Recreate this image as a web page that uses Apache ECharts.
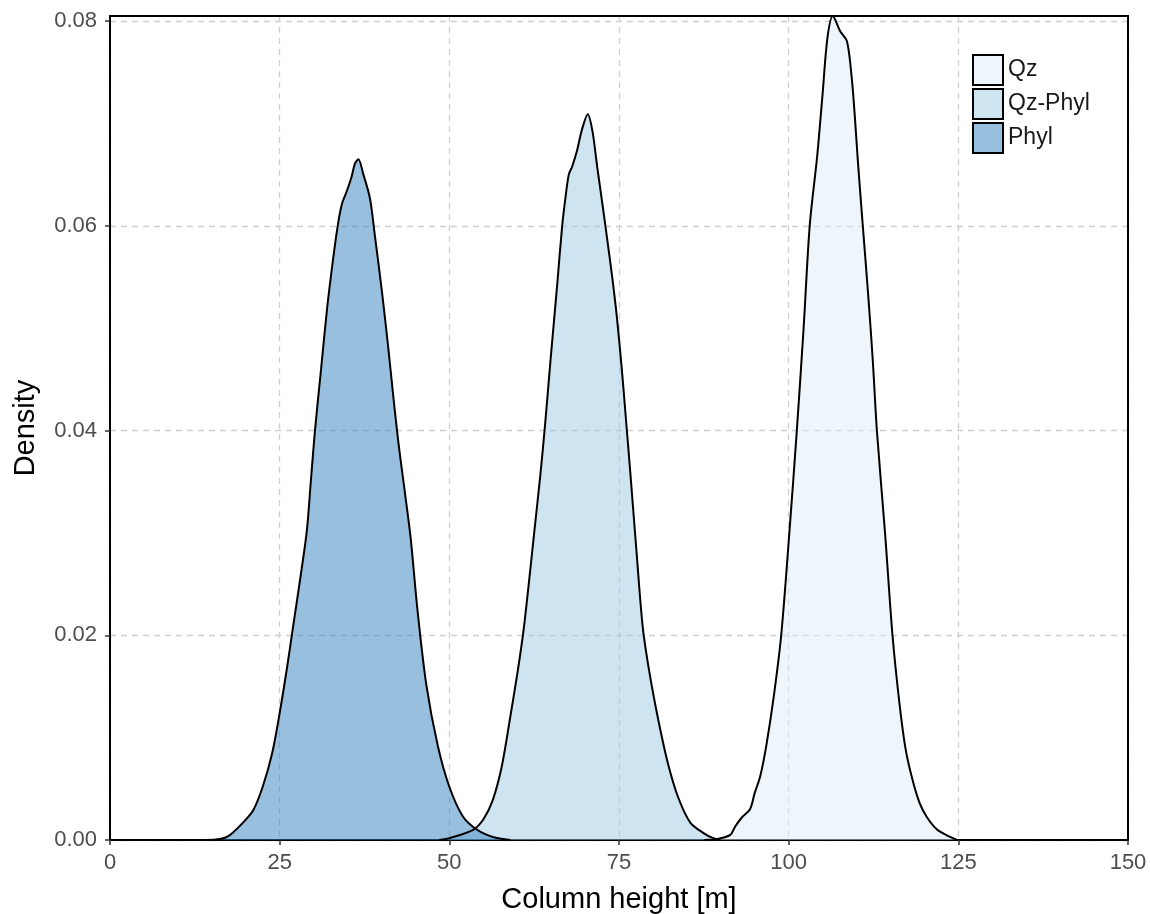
<!DOCTYPE html>
<html>
<head>
<meta charset="utf-8">
<script src="https://cdn.jsdelivr.net/npm/echarts@6/dist/echarts.min.js"></script>
<style>
html,body{margin:0;padding:0;background:#fff;}
#chart{width:1150px;height:914px;}
</style>
</head>
<body>
<div id="chart"></div>
<script>
const seriesNames = ['Qz', 'Qz-Phyl', 'Phyl'];
const xTicks = [0, 25, 50, 75, 100, 125, 150];
const yTicks = [0, 0.02, 0.04, 0.06, 0.08];

const phylData = [
  [14.0,0],[16.2,0.0001],[17.5,0.0004],[19.6,0.0017],[21.1,0.0029],[22.5,0.0052],
  [23.9,0.0085],[25.0,0.0124],[26.1,0.0169],[26.9,0.0205],[28.0,0.0254],[29.0,0.0302],
  [29.6,0.0351],[30.2,0.0400],[31.1,0.0460],[32.0,0.0520],[32.9,0.0569],[33.6,0.0602],
  [34.2,0.0622],[34.9,0.0634],[35.6,0.0648],[36.1,0.0661],[36.6,0.0665],[37.3,0.0651],
  [38.3,0.0627],[39.0,0.0592],[40.1,0.0534],[41.0,0.0481],[41.7,0.0436],[42.5,0.0388],
  [43.4,0.0342],[44.3,0.0295],[45.3,0.0225],[46.6,0.0152],[48.3,0.0092],[50.0,0.0052],
  [52.0,0.0023],[54.1,0.0010],[56.4,0.0003],[59.0,0]
];
const qzPhylData = [
  [48.5,0],[50.1,0.0002],[53.5,0.0010],[55.0,0.0020],[56.4,0.0039],[57.7,0.0071],
  [58.9,0.0117],[60.1,0.0166],[60.9,0.0203],[61.7,0.0250],[62.5,0.0300],[63.4,0.0356],
  [64.1,0.0405],[64.9,0.0468],[65.9,0.0543],[66.6,0.0598],[67.1,0.0627],[67.6,0.0650],
  [68.1,0.0658],[68.8,0.0673],[69.5,0.0693],[70.4,0.0709],[71.1,0.0692],[71.8,0.0657],
  [72.5,0.0624],[73.2,0.0590],[74.0,0.0550],[74.7,0.0510],[75.4,0.0461],[76.0,0.0413],
  [76.7,0.0356],[77.6,0.0280],[78.5,0.0208],[79.5,0.0163],[80.8,0.0117],[82.2,0.0075],
  [83.7,0.0042],[85.5,0.0017],[87.4,0.0007],[88.8,0.0002],[89.9,0]
];
const qzData = [
  [87.5,0],[89.5,0.0001],[91.4,0.0005],[92.1,0.0013],[93.1,0.0022],[94.3,0.0030],
  [95.0,0.0046],[95.8,0.0062],[96.7,0.0092],[97.8,0.0140],[98.9,0.0200],[100.1,0.0300],
  [101.2,0.0400],[102.2,0.0500],[103.1,0.0600],[104.2,0.0668],[105.0,0.0729],[105.7,0.0783],
  [106.5,0.0805],[107.6,0.0790],[108.6,0.0780],[109.3,0.0744],[109.8,0.0702],[110.2,0.0663],
  [110.9,0.0602],[111.7,0.0534],[112.4,0.0468],[113.0,0.0400],[114.2,0.0300],[115.3,0.0200],
  [116.3,0.0135],[117.2,0.0090],[118.2,0.0060],[119.3,0.0036],[120.4,0.0022],[121.9,0.0010],
  [123.8,0.0003],[124.8,0]
];

const fills = {
  'Qz': 'rgba(222,235,247,0.5)',
  'Qz-Phyl': 'rgba(158,202,225,0.5)',
  'Phyl': 'rgba(49,130,189,0.5)'
};
const dataMap = {'Qz': qzData, 'Qz-Phyl': qzPhylData, 'Phyl': phylData};

const chart = echarts.init(document.getElementById('chart'), null, {renderer: 'canvas'});
const font = 'Liberation Sans, Arial, sans-serif';

const series = seriesNames.map(name => ({
  name: name,
  type: 'line',
  data: dataMap[name],
  smooth: 0.3,
  symbol: 'none',
  itemStyle: {color: fills[name], borderColor: '#000', borderWidth: 2},
  lineStyle: {color: '#000', width: 2},
  areaStyle: {color: fills[name], opacity: 1},
  clip: true,
  silent: true
}));

const frameAxis = {
  axisLine: {show: true, onZero: false, lineStyle: {color: '#000', width: 2}},
  axisTick: {show: false},
  axisLabel: {show: false},
  splitLine: {show: false}
};

chart.setOption({
  animation: false,
  backgroundColor: '#fff',
  grid: {left: 110, right: 22, top: 16, bottom: 74, containLabel: false, outerBoundsMode: 'none'},
  legend: {
    data: seriesNames,
    orient: 'vertical',
    left: 967,
    top: 49,
    icon: 'rect',
    itemWidth: 30,
    itemHeight: 30,
    itemGap: 2,
    textStyle: {fontFamily: font, fontSize: 23, color: '#1a1a1a'},
    itemStyle: {borderColor: '#000', borderWidth: 2},
    selectedMode: false
  },
  xAxis: [{
    type: 'value',
    min: 0, max: 150, interval: 25,
    name: 'Column height [m]',
    nameLocation: 'middle',
    nameGap: 45,
    nameTextStyle: {fontFamily: font, fontSize: 29, color: '#000'},
    axisLine: {show: true, onZero: false, lineStyle: {color: '#000', width: 2}},
    axisTick: {show: true, length: 5, lineStyle: {color: '#333', width: 1.5}},
    axisLabel: {fontFamily: font, fontSize: 22, color: '#4d4d4d', margin: 12,
      formatter: v => xTicks.includes(v) ? String(v) : ''},
    splitLine: {show: true, lineStyle: {color: '#cfcfcf', type: [6,5], width: 1.3}}
  }, Object.assign({type: 'value', min: 0, max: 150, position: 'top'}, frameAxis)],
  yAxis: [{
    type: 'value',
    min: 0, max: 0.0805, interval: 0.02,
    name: 'Density',
    nameLocation: 'middle',
    nameGap: 70,
    nameRotate: 90,
    nameTextStyle: {fontFamily: font, fontSize: 29, color: '#000'},
    axisLine: {show: true, onZero: false, lineStyle: {color: '#000', width: 2}},
    axisTick: {show: true, length: 5, lineStyle: {color: '#333', width: 1.5}, customValues: yTicks},
    axisLabel: {fontFamily: font, fontSize: 22, color: '#4d4d4d', margin: 13, customValues: yTicks,
      formatter: v => v.toFixed(2)},
    splitLine: {show: true, lineStyle: {color: '#cfcfcf', type: [6,5], width: 1.3}}
  }, Object.assign({type: 'value', min: 0, max: 0.0805, position: 'right'}, frameAxis)],
  series: series
});
</script>
</body>
</html>
